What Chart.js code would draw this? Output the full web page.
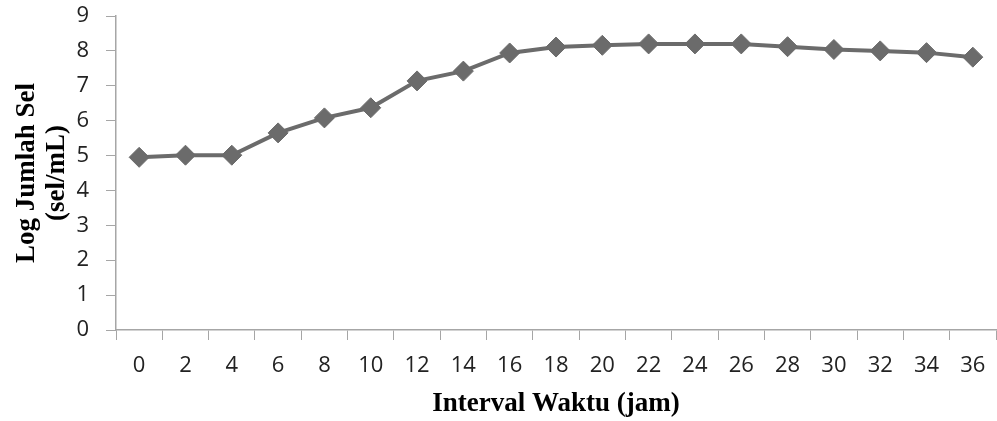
<!DOCTYPE html>
<html>
<head>
<meta charset="utf-8">
<script src="https://cdn.jsdelivr.net/npm/chart.js@4"></script>
<style>
  html, body { margin: 0; padding: 0; background: #ffffff; }
  #wrap { width: 997px; height: 421px; position: relative; }
</style>
</head>
<body>
<div id="wrap"><canvas id="chart"></canvas></div>
<script>
// hours of incubation and log cell count
const hours = ['0', '2', '4', '6', '8', '10', '12', '14', '16', '18', '20', '22', '24', '26', '28', '30', '32', '34', '36'];
const logCells = [4.95, 5.01, 5.01, 5.65, 6.08, 6.37, 7.14, 7.42, 7.94, 8.11, 8.16, 8.2, 8.2, 8.2, 8.12, 8.04, 8.0, 7.95, 7.82];
const yTicks = [0, 1, 2, 3, 4, 5, 6, 7, 8, 9];

const axisGray = '#a6a6a6';
const tickFont = { family: "'Open Sans', 'Noto Sans', sans-serif", size: 22 };
const titleFont = { family: "'Liberation Serif', 'DejaVu Serif', serif", size: 27, weight: 'bold' };

const ctx = document.getElementById('chart').getContext('2d');
new Chart(ctx, {
    type: 'line',
    data: {
        labels: hours,
        datasets: [{
            label: 'Log Jumlah Sel',
            data: logCells,
            borderColor: '#6b6b6b',
            backgroundColor: '#6b6b6b',
            borderWidth: 4,
            pointStyle: 'rectRot',
            pointRadius: 10,
            pointBorderWidth: 1,
            pointHoverRadius: 10,
            tension: 0,
            clip: false
        }]
    },
    options: {
        responsive: true,
        maintainAspectRatio: false,
        animation: false,
        layout: { autoPadding: false, padding: { left: 12, right: 1, top: 0, bottom: 0 } },
        plugins: {
            legend: { display: false },
            tooltip: { enabled: false }
        },
        scales: {
            x: {
                offset: true,
                afterFit: (scale) => {
                    scale.height = 91;
                    scale.paddingLeft = 0;
                    scale.paddingRight = 0;
                },
                grid: {
                    offset: true,
                    drawOnChartArea: false,
                    drawTicks: true,
                    tickLength: 10,
                    color: axisGray
                },
                border: { color: axisGray, width: 1.5 },
                ticks: { color: '#222', font: tickFont, padding: 13, maxRotation: 0, autoSkip: false },
                title: {
                    display: true,
                    text: 'Interval Waktu (jam)',
                    color: '#000',
                    font: titleFont,
                    padding: { top: 0, bottom: 1 }
                }
            },
            y: {
                min: 0,
                max: 9,
                afterBuildTicks: (scale) => { scale.ticks = yTicks.map(v => ({ value: v })); },
                afterFit: (scale) => {
                    scale.width = 104;
                    scale.paddingTop = 16;
                    scale.paddingBottom = 0;
                },
                grid: {
                    drawOnChartArea: false,
                    drawTicks: true,
                    tickLength: 10,
                    color: axisGray
                },
                border: { color: axisGray, width: 1.5 },
                ticks: { color: '#222', font: tickFont, padding: 17 },
                title: {
                    display: true,
                    text: ['Log Jumlah Sel', '(sel/mL)'],
                    color: '#000',
                    font: { ...titleFont, lineHeight: 1.1 },
                    padding: 0
                }
            }
        }
    }
});
</script>
</body>
</html>
